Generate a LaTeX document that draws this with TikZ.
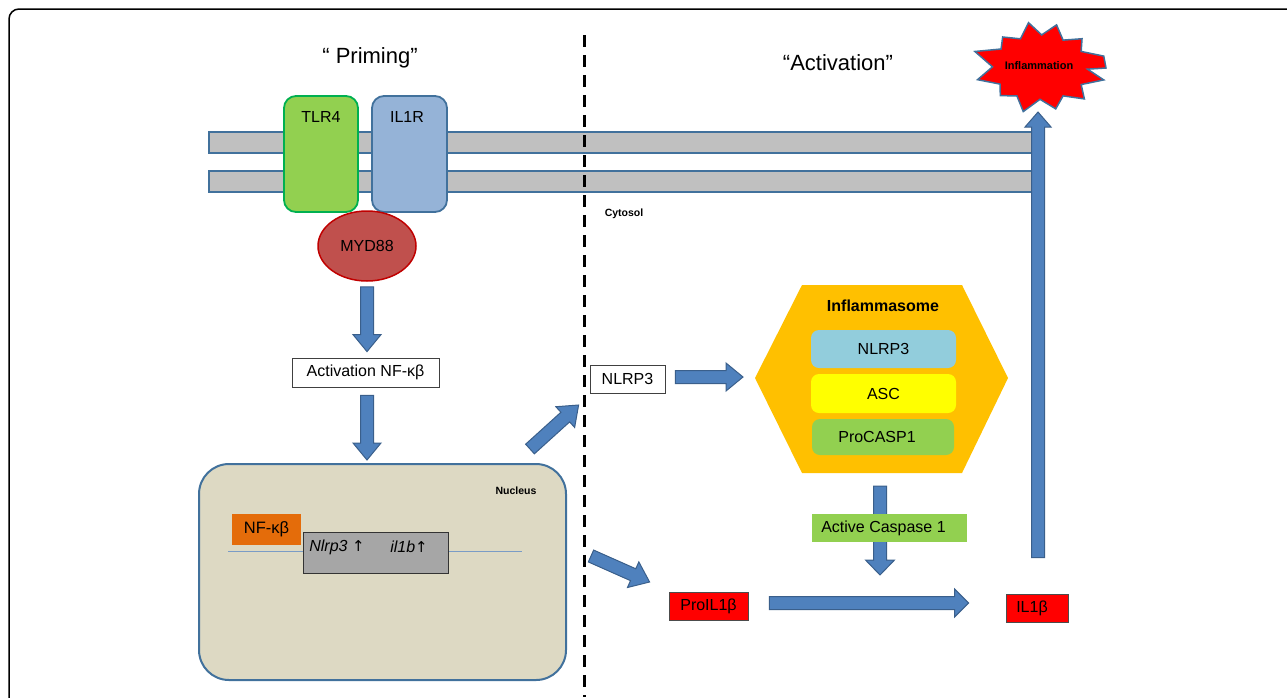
\documentclass[tikz,border=0pt]{standalone}
\usepackage{fontspec}
\setmainfont{Liberation Sans}
\newfontfamily\dejavu{DejaVu Sans}
\usetikzlibrary{calc,shapes.geometric}
\definecolor{arrowblue}{HTML}{4F81BD}
\definecolor{arrowedge}{HTML}{3A5F8B}
\definecolor{memgray}{HTML}{C0C0C0}
\definecolor{memedge}{HTML}{41719C}
\definecolor{tlrgreen}{HTML}{92D050}
\definecolor{tlredge}{HTML}{00B050}
\definecolor{ilblue}{HTML}{95B3D7}
\definecolor{mydred}{HTML}{C0504D}
\definecolor{mydedge}{HTML}{C00000}
\definecolor{nucfill}{HTML}{DDD9C3}
\definecolor{nfkborange}{HTML}{E46C0A}
\definecolor{genegray}{HTML}{A6A6A6}
\definecolor{hexorange}{HTML}{FFC000}
\definecolor{nlrpblue}{HTML}{92CDDC}
\definecolor{ascyellow}{HTML}{FFFF00}
\definecolor{pureRed}{HTML}{FF0000}
\definecolor{dnablue}{HTML}{7A9CC6}
\newcommand\fsz[1]{\fontsize{#1}{#1}\selectfont}
\newcommand\bkarrow[4]{%
  \coordinate (ba-e) at ($(#2)!#3!(#1)$);
  \draw[barrow] ($(#1)!6.5pt!90:(#2)$) -- ($(ba-e)!6.5pt!90:(#2)$) -- ($(ba-e)!#4!90:(#2)$) -- (#2)
    -- ($(ba-e)!#4!-90:(#2)$) -- ($(ba-e)!6.5pt!-90:(#2)$) -- ($(#1)!6.5pt!-90:(#2)$) -- cycle;}
\tikzset{
  barrow/.style={fill=arrowblue, draw=arrowedge, line width=1pt, line join=miter},
  membrane/.style={fill=memgray, draw=memedge, line width=1.6pt},
  wbox/.style={draw=black!75, fill=white, line width=0.8pt, inner sep=0pt, font=\fsz{16}},
  redbox/.style={draw=black!70, fill=pureRed, line width=0.8pt, inner sep=0pt, font=\fsz{16}},
  innerbox/.style={rounded corners=8pt, inner sep=0pt, minimum width=145pt, font=\fsz{16}},
  lbl/.style={inner sep=0pt, font=\fsz{16}},
  small/.style={inner sep=0pt, font=\fsz{10.5}\bfseries},
}
\begin{document}
\begin{tikzpicture}[x=1pt,y=-1pt]
\useasboundingbox (0,0) rectangle (1287,697);
\begin{scope}
  \clip (0,0) rectangle (1287,697);
  \draw[line width=1.5pt, rounded corners=10pt] (9,9) rectangle (1330,740);
\end{scope}

% titles
\node[inner sep=0pt, font=\fsz{22}] (prim) at (370,58) {“ Priming”};
\node[inner sep=0pt, font=\fsz{22}] (actv) at (838,63) {“Activation”};

% membranes
\draw[membrane] (209,132) rectangle (1034,153);
\draw[membrane] (209,171) rectangle (1034,192);

% receptors
\node[draw=tlredge, fill=tlrgreen, line width=1.8pt, rounded corners=12pt,
      minimum width=74pt, minimum height=116pt] (tlr) at (321,154) {};
\node[lbl] (tlrl) at (321,117) {TLR4};
\node[draw=memedge, fill=ilblue, line width=1.8pt, rounded corners=12pt,
      minimum width=75pt, minimum height=116pt] (ilr) at (409.5,154) {};
\node[lbl] (ilrl) at (407,117) {IL1R};

% MYD88
\node[ellipse, draw=mydedge, fill=mydred, line width=1.5pt, inner sep=0pt,
      minimum width=98pt, minimum height=70pt, font=\fsz{16}] (myd) at (367,246) {MYD88};

\node[small] (cyto) at (624,214) {Cytosol};

% Activation NF-kB
\node[wbox, minimum width=147pt, minimum height=29pt] (act) at (365.5,372.5) {Activation NF-κβ};

% nucleus
\node[draw=memedge, fill=nucfill, line width=2pt, rounded corners=30pt,
      minimum width=367pt, minimum height=216pt] (nuc) at (382.5,572) {};
\node[small] (nucl) at (516,491) {Nucleus};
\draw[dnablue, line width=1pt] (228,551) -- (522,551);
\node[fill=nfkborange, inner sep=0pt, minimum width=69pt, minimum height=31pt, font=\fsz{16.5}] (nfkb) at (266.5,529.5) {NF-κβ};
\node[draw=black!80, fill=genegray, line width=1pt, minimum width=145pt, minimum height=41pt] (gene) at (375.5,552.5) {};
\node[lbl] (g1) at (337,547) {\itshape Nlrp3\ {\upshape\dejavu\fsz{15}↑}};
\node[lbl] (g2) at (409,547) {\itshape il1b{\upshape\dejavu\fsz{15}↑}};

% dashed divider
\draw[line width=3pt, dash pattern=on 12pt off 8pt] (584,35) -- (584,697);

% NLRP3 outer
\node[wbox, minimum width=75pt, minimum height=28pt] (nl) at (627.5,379) {NLRP3};

% inflammasome hexagon
\coordinate (hexl) at (755,378);
\coordinate (hexb) at (880,473);
\fill[hexorange] (hexl) -- (802,285) -- (962,285) -- (1008,378) -- (962,473) -- (802,473) -- cycle;
\node[inner sep=0pt, font=\fsz{16}\bfseries] (infl) at (883,306) {Inflammasome};
\node[innerbox, fill=nlrpblue, minimum height=38pt] (in1) at (883.5,349) {NLRP3};
\node[innerbox, fill=ascyellow, minimum height=39pt] (in2) at (883.5,393.5) {ASC};
\node[innerbox, fill=tlrgreen, minimum width=142pt, minimum height=36pt] (in3) at (883,437) {\hspace*{-12pt}ProCASP1};

% IL1b boxes
\node[redbox, minimum width=79pt, minimum height=28pt] (pro) at (708.5,606) {ProIL1β};
\node[redbox, minimum width=62pt, minimum height=28pt] (il) at (1037,608) {\hspace*{-10pt}IL1β};

\coordinate (caspc) at (889.5,528);

% star
\coordinate (starb) at (1038,112);
\draw[fill=pureRed, draw=memedge, line width=1.5pt, line join=miter]
  ({1040+66*cos(0)},{68-46*sin(0)})
  \foreach \a/\f in {15/1.0,30/0.72,45/0.9,60/0.7,75/0.97,88/0.72,100/1.0,115/0.7,130/0.88,145/0.72,160/1.05,178/0.72,195/0.98,210/0.7,225/0.85,240/0.7,255/0.98,270/0.68,285/0.92,300/0.7,315/0.95,330/0.72,345/1.0,358/0.72}
  { -- ({1040+66*\f*cos(\a)},{68-46*\f*sin(\a)}) } -- cycle;
\node[inner sep=0pt, font=\fsz{11}\bfseries] (starl) at (1039,66) {Inflammation};

% block arrows
\coordinate (a1s) at ($(myd.south)+(0,5)$);
\coordinate (a1e) at ($(a1s |- act.north)+(0,-6)$);
\bkarrow{a1s}{a1e}{17pt}{14pt}
\coordinate (a2s) at ($(a1s |- act.south)+(0,8)$);
\coordinate (a2e) at ($(a1s |- nuc.north)+(0,-3)$);
\bkarrow{a2s}{a2e}{17pt}{14pt}
\coordinate (a3s) at ($(nuc.north east)+(-37,-14)$);
\coordinate (a3e) at ($(nl.west)+(-11,26)$);
\bkarrow{a3s}{a3e}{18pt}{14pt}
\coordinate (a4s) at ($(nl.east)+(10,-2)$);
\coordinate (a4e) at ($(hexl)+(-12,-1)$);
\bkarrow{a4s}{a4e}{17pt}{14pt}
\coordinate (a5s) at ($(nuc.east)+(24,-16)$);
\coordinate (a5e) at ($(pro.west)+(-19,-24)$);
\bkarrow{a5s}{a5e}{18pt}{14pt}
\coordinate (a6s) at ($(hexb)+(0,13)$);
\coordinate (a6e) at ($(hexb)+(0,102)$);
\bkarrow{a6s}{a6e}{15pt}{14.5pt}
\coordinate (a7s) at ($(pro.east)+(21,-3)$);
\coordinate (a7e) at ($(a7s -| il.west)+(-37,0)$);
\bkarrow{a7s}{a7e}{14pt}{14pt}
\coordinate (a8s) at ($(il.north)+(1,-36)$);
\bkarrow{a8s}{starb}{15pt}{13pt}

% active caspase box over arrow
\node[fill=tlrgreen, inner sep=0pt, minimum width=155pt, minimum height=28pt, font=\fsz{16}] (casp) at (caspc) {\hspace*{-12pt}Active Caspase 1};
\end{tikzpicture}
\end{document}
